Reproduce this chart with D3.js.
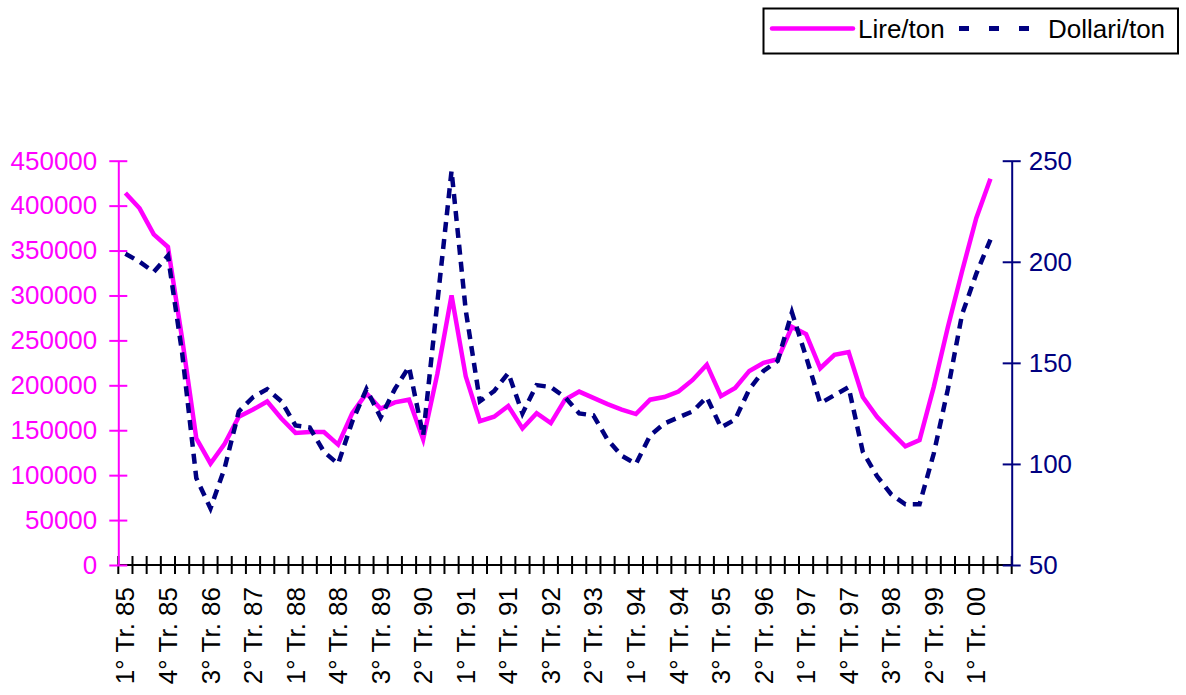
<!DOCTYPE html>
<html>
<head>
<meta charset="utf-8">
<script src="https://cdn.jsdelivr.net/npm/d3@7"></script>
<style>
  body { margin: 0; background: #fff; }
  svg { display: block; font-family: "Liberation Sans", Arial, sans-serif; }
</style>
</head>
<body>
<div id="graphic"></div>
<script>
// categorie trimestrali (l'ultima e' vuota)
var categories = [
  "1° Tr. 85","2° Tr. 85","3° Tr. 85","4° Tr. 85",
  "1° Tr. 86","2° Tr. 86","3° Tr. 86","4° Tr. 86",
  "1° Tr. 87","2° Tr. 87","3° Tr. 87","4° Tr. 87",
  "1° Tr. 88","2° Tr. 88","3° Tr. 88","4° Tr. 88",
  "1° Tr. 89","2° Tr. 89","3° Tr. 89","4° Tr. 89",
  "1° Tr. 90","2° Tr. 90","3° Tr. 90","4° Tr. 90",
  "1° Tr. 91","2° Tr. 91","3° Tr. 91","4° Tr. 91",
  "1° Tr. 92","2° Tr. 92","3° Tr. 92","4° Tr. 92",
  "1° Tr. 93","2° Tr. 93","3° Tr. 93","4° Tr. 93",
  "1° Tr. 94","2° Tr. 94","3° Tr. 94","4° Tr. 94",
  "1° Tr. 95","2° Tr. 95","3° Tr. 95","4° Tr. 95",
  "1° Tr. 96","2° Tr. 96","3° Tr. 96","4° Tr. 96",
  "1° Tr. 97","2° Tr. 97","3° Tr. 97","4° Tr. 97",
  "1° Tr. 98","2° Tr. 98","3° Tr. 98","4° Tr. 98",
  "1° Tr. 99","2° Tr. 99","3° Tr. 99","4° Tr. 99",
  "1° Tr. 00","2° Tr. 00","3° Tr. 00"
];

// Lire/ton (asse sinistro)
var lire = [
  414000, 397000, 368000, 354000, 252000, 141000, 113000, 135000,
  165000, 173000, 182000, 163000, 147000, 148000, 148000, 134000,
  169000, 191000, 174000, 181000, 184000, 140000, 213000, 300000,
  210000, 160000, 165000, 177000, 152000, 169000, 158000, 184000,
  193000, 186000, 179000, 173000, 168000, 184000, 187000, 193000,
  206000, 223000, 188000, 197000, 216000, 225000, 229000, 265000,
  257000, 219000, 234000, 237000, 187000, 165000, 148000, 132000,
  139000, 198000, 265000, 327000, 386000, 430000
];

// Dollari/ton (asse destro)
var dollari = [
  204, 200, 195, 203, 155, 93, 78, 98,
  126, 133, 137, 131, 119, 118, 106, 100,
  121, 137, 123, 137, 148, 114, 180, 245,
  176, 131, 136, 145, 125, 139, 138, 133,
  125, 124, 112, 104, 100, 114, 120, 123,
  126, 133, 118, 122, 137, 146, 151, 175,
  153, 130, 134, 138, 106, 94, 85, 80,
  80, 105, 137, 174, 194, 211
];

var leftTicks = [0, 50000, 100000, 150000, 200000, 250000, 300000, 350000, 400000, 450000];
var rightTicks = [50, 100, 150, 200, 250];
var labelled = categories.filter(function(d, i) { return i % 3 === 0; });

var PINK = "#ff00ff", NAVY = "#000080";

var svg = d3.select("#graphic").append("svg")
    .attr("width", 1186)
    .attr("height", 695);

var x = d3.scaleBand().domain(categories).range([118.3, 1011.7]).padding(0);
var yL = d3.scaleLinear().domain([0, 450000]).range([565, 160.7]);
var yR = d3.scaleLinear().domain([50, 250]).range([565, 160.7]);
var cx = function(i) { return x(categories[i]) + x.bandwidth() / 2; };

// asse x: linea e tacche ai bordi delle categorie
var xg = svg.append("g");
xg.append("line")
    .attr("x1", 118.3).attr("x2", 1011.7)
    .attr("y1", 565).attr("y2", 565)
    .attr("stroke", "#000").attr("stroke-width", 2);
var bounds = categories.map(function(c) { return x(c); }).concat([x.range()[1]]);
xg.selectAll("line.tk").data(bounds).enter().append("line")
    .attr("class", "tk")
    .attr("x1", function(d) { return d; }).attr("x2", function(d) { return d; })
    .attr("y1", 556).attr("y2", 574)
    .attr("stroke", "#000").attr("stroke-width", 2);

// etichette x ruotate
var xAxis = svg.append("g")
    .attr("transform", "translate(0,565)")
    .call(d3.axisBottom(x).tickValues(labelled).tickSize(0));
xAxis.select(".domain").remove();
xAxis.selectAll("text")
    .attr("transform", "rotate(-90)")
    .attr("text-anchor", "end")
    .attr("x", -22).attr("y", 0).attr("dy", "0.35em")
    .attr("fill", "#000")
    .style("font-size", "26px")
    .style("font-family", '"Liberation Sans", Arial, sans-serif');

// asse sinistro
var yLeft = svg.append("g")
    .attr("transform", "translate(118.3,0)")
    .call(d3.axisLeft(yL).tickValues(leftTicks).tickSize(9).tickSizeOuter(0).tickPadding(12).tickFormat(d3.format("d")));
yLeft.select(".domain").attr("stroke", PINK).attr("stroke-width", 2);
yLeft.selectAll(".tick line").attr("x1", 9).attr("stroke", PINK).attr("stroke-width", 2);
yLeft.selectAll("text").attr("fill", PINK)
    .style("font-size", "26px")
    .style("font-family", '"Liberation Sans", Arial, sans-serif');

// asse destro
var yRight = svg.append("g")
    .attr("transform", "translate(1011.7,0)")
    .call(d3.axisRight(yR).tickValues(rightTicks).tickSize(9).tickSizeOuter(0).tickPadding(8));
yRight.select(".domain").attr("stroke", NAVY).attr("stroke-width", 2);
yRight.selectAll(".tick line").attr("x1", -9).attr("stroke", NAVY).attr("stroke-width", 2);
yRight.selectAll("text").attr("fill", NAVY)
    .style("font-size", "26px")
    .style("font-family", '"Liberation Sans", Arial, sans-serif');

// serie
var lineL = d3.line().x(function(d, i) { return cx(i); }).y(function(d) { return yL(d); });
var lineR = d3.line().x(function(d, i) { return cx(i); }).y(function(d) { return yR(d); });

svg.append("path").datum(lire)
    .attr("d", lineL)
    .attr("fill", "none").attr("stroke", PINK).attr("stroke-width", 4.5);

svg.append("path").datum(dollari)
    .attr("d", lineR)
    .attr("fill", "none").attr("stroke", NAVY).attr("stroke-width", 4.5)
    .attr("stroke-dasharray", "10,7");

// legenda
var lg = svg.append("g");
lg.append("rect")
    .attr("x", 763.5).attr("y", 8.5).attr("width", 414.5).attr("height", 45)
    .attr("fill", "#fff").attr("stroke", "#000").attr("stroke-width", 2);
lg.append("line")
    .attr("x1", 772).attr("x2", 853).attr("y1", 28.5).attr("y2", 28.5)
    .attr("stroke", PINK).attr("stroke-width", 4.5).attr("stroke-linecap", "round");
lg.append("text").attr("x", 858).attr("y", 37.5)
    .style("font-size", "26px").text("Lire/ton");
lg.append("line")
    .attr("x1", 959).attr("x2", 1031).attr("y1", 28.5).attr("y2", 28.5)
    .attr("stroke", NAVY).attr("stroke-width", 5)
    .attr("stroke-dasharray", "10,20");
lg.append("text").attr("x", 1048).attr("y", 37.5)
    .style("font-size", "26px").text("Dollari/ton");
</script>
</body>
</html>
